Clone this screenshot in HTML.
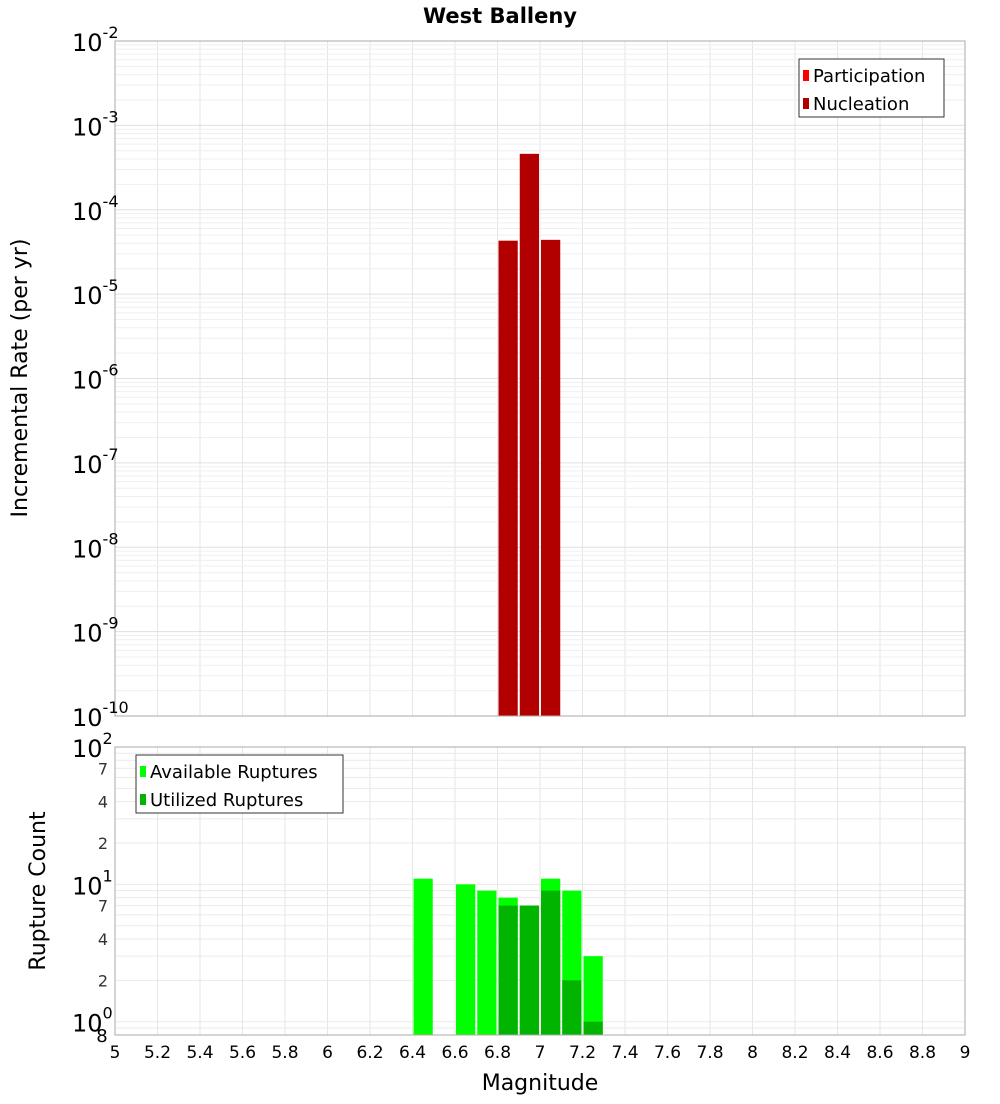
<!DOCTYPE html>
<html><head><meta charset="utf-8"><style>
body{margin:0;background:#fff;font-family:"DejaVu Sans","Liberation Sans",sans-serif;}
svg text{font-family:"DejaVu Sans","Liberation Sans",sans-serif;}
</style></head><body>
<svg id="c" width="1000" height="1100" xmlns="http://www.w3.org/2000/svg">
<text x="500" y="23" text-anchor="middle" font-size="21" font-weight="bold">West Balleny</text>
<g id="topPanel"></g>
<g id="botPanel"></g>
</svg>
<script>
const mags=[6.85,6.95,7.05];
const participation=[4.3e-5,4.6e-4,4.4e-5];
const nucleation=[4.3e-5,4.6e-4,4.4e-5];
const cMags=[6.45,6.65,6.75,6.85,6.95,7.05,7.15,7.25];
const available=[11,10,9,8,7,11,9,3];
const utilized=[0,0,0,7,7,9,2,1];
const xTicks=["5","5.2","5.4","5.6","5.8","6","6.2","6.4","6.6","6.8","7","7.2","7.4","7.6","7.8","8","8.2","8.4","8.6","8.8","9"];
const topExps=[-10,-9,-8,-7,-6,-5,-4,-3,-2];
const botMinor=["2","4","7"];

const NS="http://www.w3.org/2000/svg";
const L=115,R=965;
const x=v=>L+(v-5)/4*(R-L);
const T0=41,T1=716, yT=v=>T1-(Math.log10(v)+10)/8*(T1-T0);
const B0=747,B1=1035, bLo=Math.log10(0.8), yB=v=>B1-(Math.log10(v)-bLo)/(2-bLo)*(B1-B0);
function mk(p,tag,a,txt){const e=document.createElementNS(NS,tag);for(const k in a)e.setAttribute(k,a[k]);if(txt!==undefined)e.textContent=txt;p.appendChild(e);return e;}
const topG=document.getElementById('topPanel'),botG=document.getElementById('botPanel');

xTicks.forEach(t=>{const xv=x(+t);
 const g1=mk(topG,'line',{x1:xv,x2:xv,y1:T0,y2:T1,stroke:'#e6e6e6'});
 
 
 const g2=mk(botG,'line',{x1:xv,x2:xv,y1:B0,y2:B1,stroke:'#e6e6e6'});
 
 
 const tl=mk(botG,'text',{x:xv,y:1058,'text-anchor':'middle','font-size':17},t);
 
 
});
for(let e=-10;e<-2;e++)for(let m=1;m<10;m++){const yv=yT(m*Math.pow(10,e));
 const g=mk(topG,'line',{x1:L,x2:R,y1:yv,y2:yv,stroke:m==1?'#e0e0e0':'#efefef'});
 
 }
for(let e=-1;e<2;e++)for(let m=1;m<10;m++){const v=m*Math.pow(10,e);if(v<0.8)continue;const yv=yB(v);
 const g=mk(botG,'line',{x1:L,x2:R,y1:yv,y2:yv,stroke:'#eaeaea'});
 
 }

mags.forEach((m,i)=>{
 const b=mk(topG,'rect',{x:x(m-0.05)+1,y:yT(nucleation[i]),width:x(m+0.05)-x(m-0.05)-2,height:T1-yT(nucleation[i]),fill:'#b20000'});
 
 
});
mk(topG,'rect',{x:L,y:T0,width:R-L,height:T1-T0,fill:'none',stroke:'#aaa'});
topExps.forEach(e=>{const yv=yT(Math.pow(10,e));
 const t=mk(topG,'text',{x:72,y:yv+10,'font-size':24},'10');
 
 
 mk(t,'tspan',{dy:-13,'font-size':16},String(e));});
const yt=mk(topG,'text',{transform:'translate(27,378) rotate(-90)','text-anchor':'middle','font-size':22},'Incremental Rate (per yr)');



cMags.forEach((m,i)=>{const x0=x(m-0.05)+1,w=x(m+0.05)-x(m-0.05)-2;
 const a=mk(botG,'rect',{x:x0,y:yB(available[i]),width:w,height:B1-yB(available[i]),fill:'#00ff00'});
 
 
 if(utilized[i]>0){const u=mk(botG,'rect',{x:x0,y:yB(utilized[i]),width:w,height:B1-yB(utilized[i]),fill:'#00b400'});
 
 }
});
mk(botG,'rect',{x:L,y:B0,width:R-L,height:B1-B0,fill:'none',stroke:'#aaa'});
[0,1,2].forEach(e=>{const yv=yB(Math.pow(10,e));
 const t=mk(botG,'text',{x:72,y:yv+10,'font-size':24},'10');
 
 
 mk(t,'tspan',{dy:-13,'font-size':16},String(e));});
[0,1].forEach(e=>botMinor.forEach(s=>{const yv=yB(+s*Math.pow(10,e));
 const t=mk(botG,'text',{x:103,y:yv+6,'text-anchor':'middle','font-size':16,fill:'#333'},s);
 
 }));
const e8=mk(botG,'text',{x:102,y:1042,'text-anchor':'middle','font-size':18},'8');


const bt=mk(botG,'text',{transform:'translate(45,891) rotate(-90)','text-anchor':'middle','font-size':22},'Rupture Count');


const xt=mk(botG,'text',{x:540,y:1090,'text-anchor':'middle','font-size':22},'Magnitude');



function legend(p,x0,y0,w,items){const g=mk(p,'g',{});
 
 
 mk(g,'rect',{x:x0,y:y0,width:w,height:58,fill:'#fff',stroke:'#333'});
 items.forEach((it,i)=>{const ey=y0+17+i*28;
  const s=mk(g,'rect',{x:x0+4,y:ey-6,width:6,height:11,fill:it[1]});
  
  
  const t=mk(g,'text',{x:x0+14,y:ey+6,'font-size':18},it[0]);
  
  });}
legend(topG,799,59,145,[['Participation','#ff0000'],['Nucleation','#b20000']]);
legend(botG,136,755,207,[['Available Ruptures','#00ff00'],['Utilized Ruptures','#00b400']]);
</script>
</body></html>
